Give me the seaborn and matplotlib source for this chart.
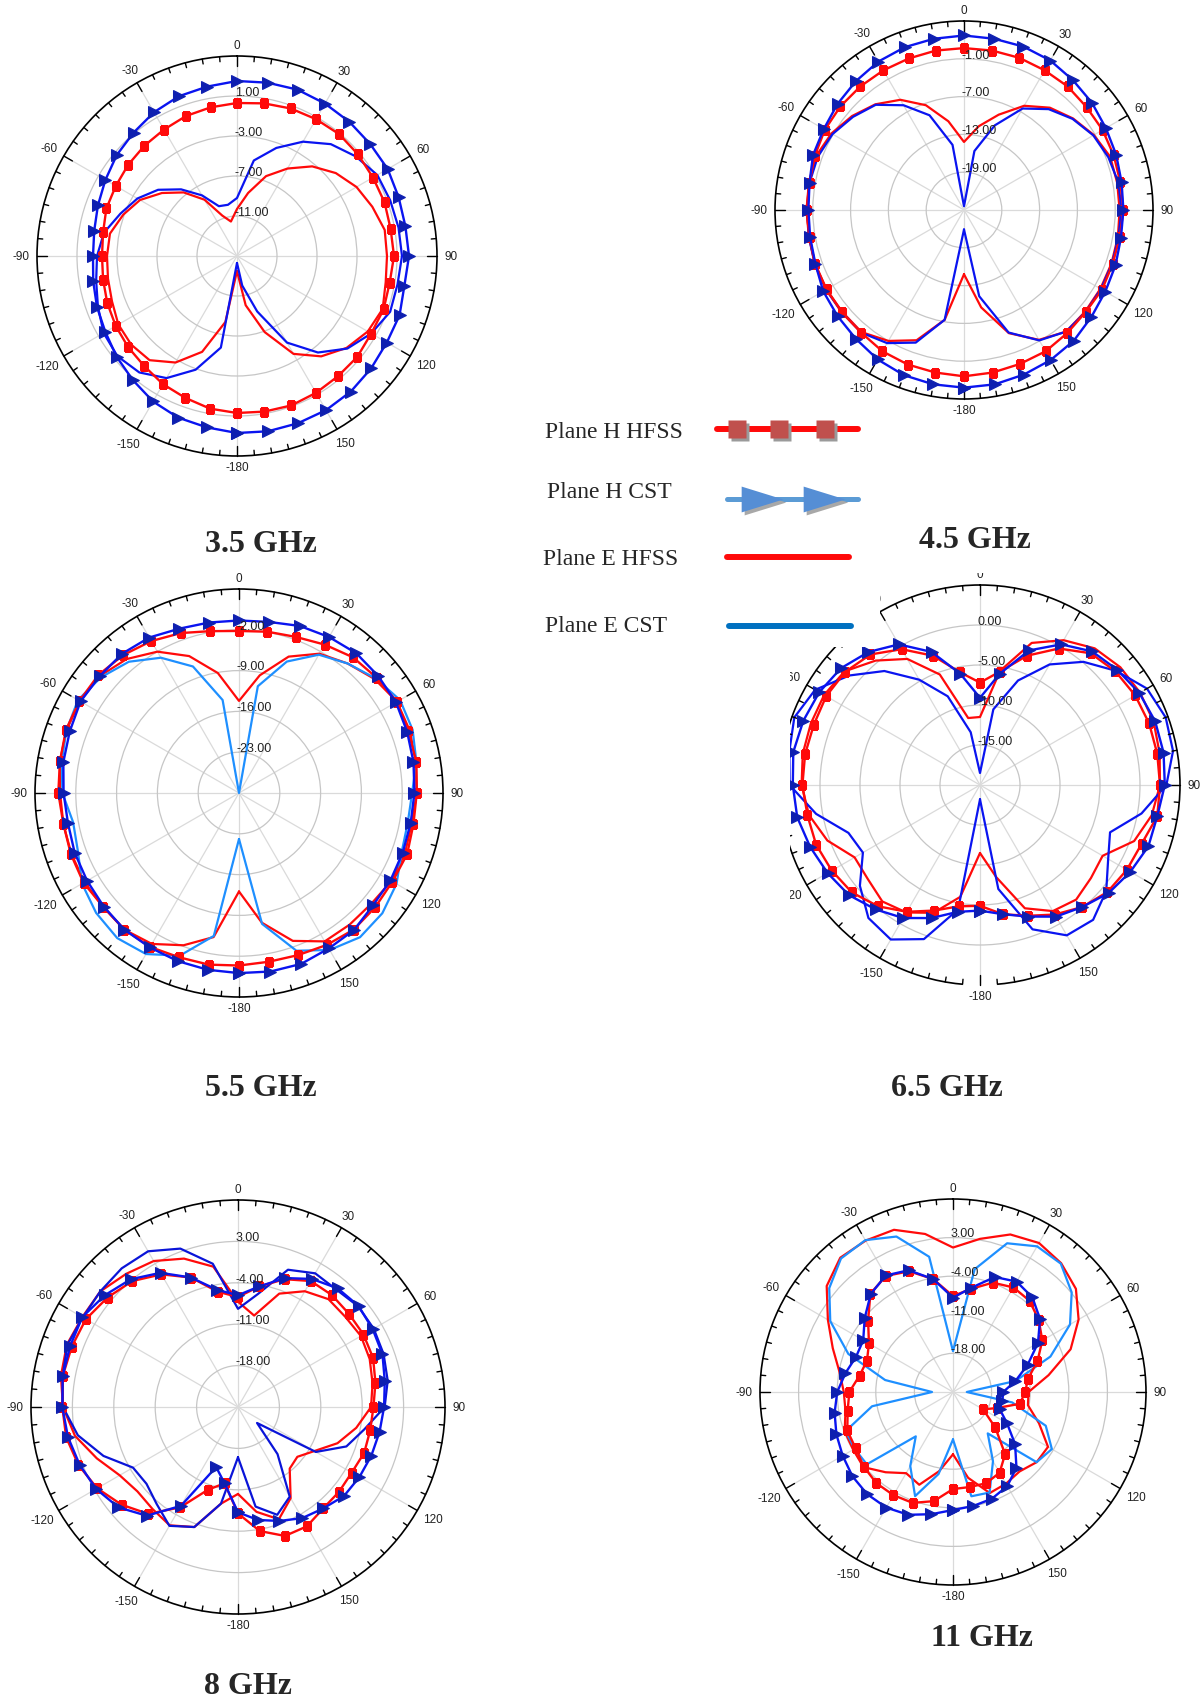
import numpy as np
import pandas as pd
import matplotlib
matplotlib.use("Agg")
import matplotlib.pyplot as plt
import seaborn as sns
from matplotlib.lines import Line2D
from matplotlib.patches import Rectangle
import matplotlib.transforms as mtransforms

sns.set_theme(style="white")
plt.rcParams["font.family"] = ["Liberation Sans", "DejaVu Sans"]

# Sampling angles (degrees) for every radiation pattern
ANGLES = np.arange(-180, 180, 10)

# ---------------- 3.5 GHz (dB) ----------------
H_HFSS_35 = [0.7, 0.5, 0.1, -0.2, -0.6, -0.8, -1.0, -1.2, -1.4, -1.5, -1.4, -1.1, -1.0, -0.8, -0.6, -0.4, -0.1, 0.1,
             0.3, 0.5, 0.7, 0.8, 0.9, 0.8, 0.7, 0.7, 0.6, 0.7, 0.5, 0.6, 0.5, 0.7, 0.7, 0.8, 0.9, 0.8]
H_CST_35 = [2.7, 2.4, 2.2, 1.8, 1.2, 0.7, 0.2, -0.1, -0.4, -0.6, -0.5, -0.2, 0.2, 0.7, 1.1, 1.6, 2.0, 2.2,
            2.5, 2.6, 2.7, 2.6, 2.5, 2.4, 2.4, 2.2, 2.1, 2.2, 2.0, 2.3, 2.3, 2.5, 2.7, 2.8, 2.8, 2.8]
E_HFSS_35 = [-13.5, -8.3, -4.8, -2.7, -1.4, -1.2, -1.3, -1.7, -1.9, -2.0, -2.1, -2.9, -3.8, -5.2, -6.7, -8.5, -10.7, -11.5,
             -10.3, -8.6, -6.5, -4.9, -3.3, -2.1, -1.2, -0.6, 0.0, 0.0, 0.1, 0.5, 0.1, -0.7, -1.9, -3.7, -6.9, -10.0]
E_CST_35 = [-14.3, -5.7, -2.9, -0.9, 0.2, 0.6, 0.4, -0.2, -0.7, -1.0, -1.5, -2.6, -3.5, -4.7, -6.3, -8.0, -9.7, -9.8,
            -9.2, -5.3, -3.5, -1.8, -0.4, 0.5, 1.2, 1.3, 1.4, 1.5, 1.3, 1.3, 0.5, -0.6, -2.4, -5.0, -9.1, -12.0]

# ---------------- 4.5 GHz (dB) ----------------
H_HFSS_45 = [1.4, 1.2, 1.1, 0.9, 0.4, 0.3, 0.2, 0.2, -0.1, 0.0, -0.1, 0.2, 0.5, 0.6, 0.6, 0.6, 0.6, 0.7,
             0.7, 0.7, 0.7, 0.6, 0.6, 0.4, 0.4, 0.3, 0.2, 0.3, 0.1, 0.1, 0.3, 0.2, 0.5, 0.9, 1.0, 1.2]
H_CST_45 = [3.2, 3.1, 2.9, 2.4, 1.7, 1.2, 0.8, 0.1, -0.2, -0.3, -0.1, 0.5, 0.7, 1.2, 1.7, 2.2, 2.5, 2.6,
            2.7, 2.6, 2.6, 2.4, 1.9, 1.5, 1.0, 0.7, 0.4, 0.3, 0.3, 0.6, 0.9, 1.4, 2.1, 2.5, 2.8, 3.1]
E_HFSS_45 = [-14.8, -7.3, -3.0, -1.0, 0.3, 0.2, 0.2, 0.1, 0.0, 0.0, 0.0, 0.0, -0.7, -1.8, -3.1, -4.8, -7.3, -10.7,
             -14.2, -11.5, -8.9, -5.9, -3.8, -2.4, -1.2, -0.3, -0.3, -0.3, -0.2, -0.1, 0.0, 0.1, 0.2, -1.2, -4.2, -9.3]
E_CST_45 = [-21.9, -7.3, -2.6, -0.6, 0.4, 0.3, 0.3, 0.2, 0.0, -0.1, -0.1, -0.3, -0.9, -2.0, -3.2, -5.8, -9.0, -14.5,
            -24.4, -15.5, -10.7, -6.4, -4.1, -2.5, -1.3, -0.6, -0.1, 0.0, -0.1, 0.0, 0.1, 0.2, 0.2, -1.1, -4.3, -11.1]

# ---------------- 5.5 GHz (dB) ----------------
H_HFSS_55 = [-0.4, -0.1, 0.0, 0.5, 0.6, 0.4, 0.8, 0.7, 0.6, 1.0, 1.2, 1.6, 1.6, 1.5, 0.9, 0.1, -0.8, -1.8,
             -2.2, -1.9, -1.5, -0.6, 0.4, 0.8, 1.3, 0.9, 0.9, 0.5, 0.4, 0.7, 0.4, 0.5, 0.6, 0.1, -0.4, -0.6]
H_CST_55 = [0.9, 0.8, 0.7, 0.6, 0.6, 0.3, 0.1, 0.0, -0.2, 0.1, 0.6, 0.9, 1.4, 1.2, 1.2, 0.8, 0.0, -0.3,
            -0.4, -0.2, 0.5, 0.9, 1.3, 1.2, 1.1, 0.7, 0.4, 0.1, -0.1, -0.1, 0.0, 0.0, 0.7, 0.8, 1.2, 1.1]
E_HFSS_55 = [-13.1, -4.9, -2.2, -0.1, 0.6, 0.4, 0.6, 0.6, 0.6, 0.7, 1.2, 1.5, 1.5, 1.2, 0.0, -2.0, -5.0, -9.1,
             -14.2, -9.5, -5.1, -2.4, -1.0, 0.4, 1.3, 1.2, 0.8, 0.5, 0.1, 0.3, 0.2, -0.4, -0.5, -0.6, -3.0, -7.4]
E_CST_55 = [-22.1, -5.1, -0.3, 1.9, 2.5, 2.0, 1.1, -0.6, -1.1, 0.3, 0.9, 1.5, 1.9, 0.9, -0.6, -3.2, -6.9, -13.8,
            -30.0, -11.4, -6.0, -2.6, -1.0, 0.6, 1.9, 1.7, 0.9, -0.3, -0.6, -0.3, 1.2, 2.1, 2.3, 1.1, -1.2, -7.2]

# ---------------- 6.5 GHz (dB) ----------------
H_HFSS_65 = [-4.9, -4.6, -3.3, -1.7, -0.2, 0.9, 1.4, 1.8, 1.9, 2.2, 2.2, 2.1, 2.2, 2.0, 1.3, -0.4, -2.8, -5.7,
             -7.2, -5.6, -2.8, -0.3, 1.5, 2.1, 2.4, 2.5, 2.5, 2.5, 2.5, 1.5, 1.2, 0.8, -0.1, -1.3, -2.6, -3.6]
H_CST_65 = [-4.3, -3.9, -2.3, -0.8, 0.3, 1.4, 2.0, 2.6, 3.2, 3.4, 3.7, 3.5, 3.2, 2.7, 1.7, 0.3, -2.3, -5.9,
            -9.1, -5.9, -2.1, 0.3, 1.8, 2.4, 3.0, 3.3, 3.3, 3.1, 2.5, 2.4, 1.7, 1.0, -0.1, -1.0, -2.5, -3.6]
E_HFSS_65 = [-11.5, -5.8, -3.0, -1.6, -1.0, -1.7, -1.9, 0.3, 1.7, 2.3, 2.5, 2.5, 2.5, 2.1, 0.3, -1.8, -5.3, -11.5,
             -11.5, -5.5, -1.1, 0.9, 2.3, 2.9, 3.1, 3.1, 2.8, 2.5, 1.8, 0.5, -2.3, -1.9, -1.3, -1.8, -3.6, -8.3]
E_CST_65 = [-18.2, -4.2, 0.5, 2.3, 1.7, -0.4, -3.1, -2.5, 0.8, 3.8, 4.2, 4.7, 3.8, 1.3, -1.4, -4.8, -8.2, -13.3,
            -18.5, -10.4, -6.1, -2.6, 0.1, 2.2, 4.1, 4.7, 4.5, 3.3, 0.5, -2.7, -1.5, 0.6, 2.0, 1.7, -0.8, -6.8]

# ---------------- 8 GHz (dB) ----------------
H_HFSS_8 = [-7.0, -11.9, -10.1, -5.4, -1.4, 0.7, 2.5, 3.7, 4.5, 4.7, 5.1, 4.9, 4.7, 3.8, 2.8, 0.9, -1.7, -5.2,
            -6.4, -4.3, -2.0, -0.4, -0.3, -0.5, -0.5, -0.7, -1.4, -2.1, -2.3, -2.3, -2.8, -2.7, -2.6, -1.7, -1.8, -3.7]
H_CST_8 = [-7.2, -11.9, -14.2, -5.7, -1.0, 1.4, 2.7, 3.5, 4.2, 4.7, 5.1, 5.2, 5.4, 4.4, 3.2, 1.2, -1.7, -4.9,
           -6.1, -4.3, -1.8, 0.0, 1.2, 1.6, 1.3, 1.0, 0.2, -0.3, -0.7, -1.0, -1.3, -1.6, -2.6, -3.3, -4.5, -5.6]
E_HFSS_8 = [-10.3, -8.4, -3.4, -1.9, -2.5, -2.8, -1.9, 0.4, 3.0, 4.6, 5.4, 5.8, 5.4, 5.4, 4.4, 3.5, 1.7, -0.9,
            -7.2, -9.3, -4.6, -2.4, -1.2, -1.3, -1.0, -1.3, -1.9, -2.5, -4.7, -7.1, -10.1, -11.9, -11.4, -7.2, -4.8, -7.0]
E_CST_8 = [-16.5, -8.4, -3.4, -1.8, -3.6, -4.8, -4.5, -0.8, 2.5, 4.6, 5.1, 5.7, 5.3, 5.4, 5.6, 5.4, 3.5, -0.4,
           -8.4, -5.6, -0.3, 1.1, 0.9, 1.5, 1.5, 1.2, 0.7, -0.2, -3.3, -5.5, -9.8, -20.8, -14.6, -7.5, -5.6, -7.9]

# ---------------- 11 GHz (dB) ----------------
H_HFSS_11 = [-7.4, -4.9, -3.6, -3.4, -3.4, -3.9, -4.6, -4.6, -5.6, -6.2, -7.8, -8.4, -7.4, -4.9, -1.7, -0.7, -1.7, -4.2,
             -7.6, -6.0, -3.9, -3.1, -3.4, -4.7, -6.3, -8.7, -11.2, -11.9, -12.7, -16.5, -18.7, -15.0, -10.3, -8.1, -7.4, -7.5]
H_CST_11 = [-3.6, -2.5, -1.3, -0.8, -0.8, -1.2, -1.9, -2.5, -3.2, -4.0, -5.2, -6.3, -6.2, -4.1, -1.8, -0.6, -1.5, -4.2,
            -7.9, -5.8, -2.8, -1.9, -2.6, -4.4, -7.2, -10.6, -13.5, -15.9, -15.9, -16.0, -13.7, -10.3, -7.1, -5.3, -4.4, -4.0]
E_HFSS_11 = [-13.7, -10.4, -7.1, -8.0, -6.0, -3.8, -4.1, -4.1, -5.2, -5.2, -4.1, -1.8, 1.2, 4.9, 6.8, 6.7, 6.3, 4.1,
             1.2, 3.2, 5.4, 6.2, 5.5, 4.1, 1.3, -2.3, -7.4, -11.3, -11.2, -8.4, -5.1, -5.2, -6.2, -5.8, -5.5, -9.2]
E_CST_11 = [-16.4, -9.9, -4.9, -9.5, -14.5, -4.6, -4.4, -4.3, -10.1, -21.2, -12.5, -4.8, 0.7, 4.3, 6.6, 6.8, 5.0, -0.1,
            -17.6, -2.4, 3.7, 5.5, 5.4, 3.1, -0.5, -6.2, -13.5, -22.5, -14.1, -7.1, -4.3, -5.2, -15.2, -10.5, -5.6, -5.8]

SERIES = ["Plane H HFSS", "Plane H CST", "Plane E HFSS", "Plane E CST"]
TITLES = ["3.5 GHz", "4.5 GHz", "5.5 GHz", "6.5 GHz", "8 GHz", "11 GHz"]
THETA_TICKS = np.arange(0, 360, 30)
THETA_LABELS = ["0", "30", "60", "90", "120", "150", "-180", "-150", "-120", "-90", "-60", "-30"]

W, H = 1200, 1706
fig = plt.figure(figsize=(W / 100, H / 100), dpi=100)
fig.patch.set_facecolor("white")


def fx(x):
    return x / W


def fy(y):
    return 1 - y / H


# per panel: centre (px), radius (px), radial range, labelled rings, E-CST colour, data, title position
panels = [
    dict(c=(237, 257), R=200, lim=(-15, 5), rings=[-11, -7, -3, 1], ecst="#0a14f0",
         data=[H_HFSS_35, H_CST_35, E_HFSS_35, E_CST_35], tpos=(261, 544)),
    dict(c=(964, 211), R=189, lim=(-25, 5), rings=[-19, -13, -7, -1], ecst="#0a14f0",
         data=[H_HFSS_45, H_CST_45, E_HFSS_45, E_CST_45], tpos=(975, 540)),
    dict(c=(239, 794), R=204, lim=(-30, 5), rings=[-23, -16, -9, -2], ecst="#1e8fff",
         data=[H_HFSS_55, H_CST_55, E_HFSS_55, E_CST_55], tpos=(261, 1088)),
    dict(c=(980, 786), R=200, lim=(-20, 5), rings=[-15, -10, -5, 0], ecst="#0a14f0",
         data=[H_HFSS_65, H_CST_65, E_HFSS_65, E_CST_65], tpos=(947, 1088), gap=True),
    dict(c=(238, 1408), R=207, lim=(-25, 10), rings=[-18, -11, -4, 3], ecst="#0a14d8",
         data=[H_HFSS_8, H_CST_8, E_HFSS_8, E_CST_8], tpos=(248, 1687)),
    dict(c=(953, 1393), R=193, lim=(-25, 10), rings=[-18, -11, -4, 3], ecst="#1e8fff",
         data=[H_HFSS_11, H_CST_11, E_HFSS_11, E_CST_11], tpos=(982, 1639)),
]

PX2PT = 72 / 100

for title, p in zip(TITLES, panels):
    cx, cy = p["c"]
    R = p["R"]
    rmin, rmax = p["lim"]
    ax = fig.add_axes([fx(cx - R), fy(cy + R), 2 * R / W, 2 * R / H], projection="polar")
    ax.set_theta_zero_location("N")
    ax.set_theta_direction(-1)
    ax.set_facecolor("none")
    ax.set_axisbelow(True)

    # long-form table of the four patterns, closed back to the start angle
    frames = []
    for name, vals in zip(SERIES, p["data"]):
        ang = np.append(ANGLES, ANGLES[0] + 360)
        v = np.append(vals, vals[0])
        frames.append(pd.DataFrame({"theta": np.deg2rad(ang), "gain": v, "series": name}))
    df = pd.concat(frames, ignore_index=True)

    styles = {
        "Plane E HFSS": dict(color="#ff0a0a", lw=1.6, zorder=3),
        "Plane E CST": dict(color=p["ecst"], lw=1.6, zorder=3),
        "Plane H HFSS": dict(color="#ff0a0a", lw=1.7, marker="s", markersize=5.2,
                             markerfacecolor="#ff0a0a", markeredgecolor="#ff0a0a", zorder=4),
        "Plane H CST": dict(color="#0a14f0", lw=1.7, marker=">", markersize=9,
                            markerfacecolor="#0e1fb0", markeredgecolor="#0e1fb0", zorder=5),
    }
    for name in ["Plane E HFSS", "Plane E CST", "Plane H HFSS", "Plane H CST"]:
        sub = df[df["series"] == name]
        sns.lineplot(data=sub, x="theta", y="gain", ax=ax, sort=False, estimator=None,
                     legend=False, **styles[name])

    ax.set_xlabel("")
    ax.set_ylabel("")
    ax.set_ylim(rmin, rmax)
    ax.set_yticks(p["rings"])
    ax.set_yticklabels([])
    ax.set_xticks(np.deg2rad(THETA_TICKS))
    ax.set_xticklabels([])
    ax.tick_params(axis="both", length=0)
    ax.xaxis.grid(True, color="#dadada", lw=0.9)
    ax.yaxis.grid(True, color="#c6c6c6", lw=0.9)
    ax.spines["polar"].set_color("black")
    ax.spines["polar"].set_linewidth(1.2)

    # angle labels outside the ring
    for a, lab in zip(THETA_TICKS, THETA_LABELS):
        s, c = np.sin(np.deg2rad(a)), np.cos(np.deg2rad(a))
        w = 6.6 * sum(ch.isdigit() for ch in lab) + 3.9 * lab.count("-")
        d = 7 + 0.5 * (abs(s) * w + abs(c) * 8.5)
        ax.annotate(lab, xy=(np.deg2rad(a), rmax), xytext=(s * d * PX2PT, c * d * PX2PT),
                    textcoords="offset points", ha="center", va="center", fontsize=8.5,
                    color="#222222", annotation_clip=False)

    # ring value labels just right of the 0-degree spoke
    for rv in p["rings"]:
        ax.annotate(f"{rv:.2f}", xy=(0, rv), xytext=(-1.5, 3), textcoords="offset points",
                    ha="left", va="center", fontsize=9, color="#222222", zorder=6)

    span = rmax - rmin
    if p.get("gap"):
        g = np.deg2rad(np.linspace(175.6, 184.4, 30))
        ax.plot(g, np.full_like(g, rmax), color="white", lw=3, zorder=2.7, clip_on=False)

    # inward tick marks every 5 degrees on the outer ring
    for a in range(0, 360, 5):
        L = (10 if a % 30 == 0 else 5) / R * span
        t = np.deg2rad(a)
        ax.plot([t, t], [rmax, rmax - L], color="black", lw=1.0, zorder=3.5, clip_on=False)
    ax.set_ylim(rmin, rmax)

    fig.text(fx(p["tpos"][0]), fy(p["tpos"][1]), title, ha="center", va="center",
             fontsize=23, fontweight="bold", family="Liberation Serif")

# white panel behind the legend (covers the corner of the 6.5 GHz pattern)
for (x0, y0, x1, y1) in [(530, 415, 880, 648), (690, 560, 790, 1012), (900, 558, 1060, 574)]:
    fig.add_artist(Rectangle((fx(x0), fy(y1)), (x1 - x0) / W, (y1 - y0) / H,
                             transform=fig.transFigure, facecolor="white", edgecolor="none", zorder=10))

legend_font = dict(fontsize=17, family="Liberation Serif", va="center", ha="left", zorder=12)
fig.text(fx(545), fy(432), "Plane H HFSS", **legend_font)
fig.text(fx(547), fy(493), "Plane H CST", **legend_font)
fig.text(fx(543), fy(560), "Plane E HFSS", **legend_font)
fig.text(fx(545), fy(627), "Plane E CST", **legend_font)


def fig_line(xs, ys, **kw):
    ln = Line2D([fx(x) for x in xs], [fy(y) for y in ys], transform=kw.pop("transform", fig.transFigure), **kw)
    fig.add_artist(ln)


shadow = mtransforms.offset_copy(fig.transFigure, fig=fig, x=2.5, y=-2.5, units="dots")
tri = [(-1.0, -0.62), (1.0, 0.0), (-1.0, 0.62), (-1.0, -0.62)]

# Plane H HFSS sample
fig_line([717, 858], [430, 430], color="#ff0a0a", lw=4.3, zorder=11)
fig_line([737, 779, 825], [430, 430, 430], ls="none", marker="s", markersize=13,
         markerfacecolor="#9a9a9a", markeredgecolor="none", transform=shadow, zorder=11)
fig_line([737, 779, 825], [430, 430, 430], ls="none", marker="s", markersize=13,
         markerfacecolor="#c0504d", markeredgecolor="none", zorder=11.5)
# Plane H CST sample
fig_line([727, 858], [500, 500], color="#5b9bd5", lw=3.6, zorder=11)
fig_line([762, 824], [500, 500], ls="none", marker=tri, markersize=30,
         markerfacecolor="#a8a8a8", markeredgecolor="none", transform=shadow, zorder=11)
fig_line([762, 824], [500, 500], ls="none", marker=tri, markersize=30,
         markerfacecolor="#558ed5", markeredgecolor="none", zorder=11.5)
# Plane E samples
fig_line([727, 849], [558, 558], color="#ff0a0a", lw=4.3, zorder=11)
fig_line([729, 851], [627, 627], color="#0070c0", lw=4.3, zorder=11)

fig.savefig("out.png", dpi=100, facecolor="white")
